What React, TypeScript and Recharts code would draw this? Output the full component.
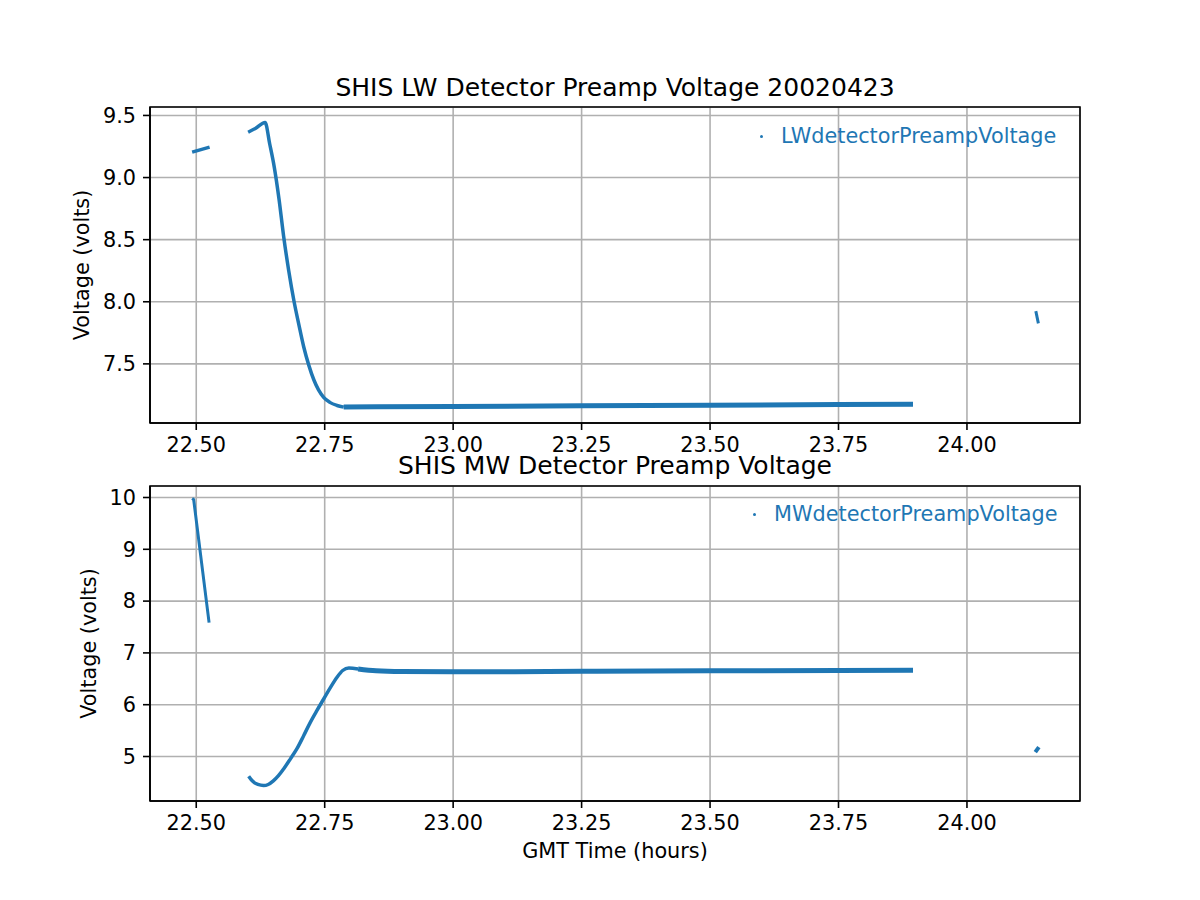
import React from 'react';
import {
  LineChart, Line, XAxis, YAxis, CartesianGrid, ReferenceArea,
} from 'recharts';

// --- data (GMT hours, volts) ---
const timeTicks = [22.5, 22.75, 23.0, 23.25, 23.5, 23.75, 24.0];
const lwTicks = [7.5, 8.0, 8.5, 9.0, 9.5];
const mwTicks = [5, 6, 7, 8, 9, 10];

const lwStart = [
  { t: 22.492, v: 9.205 },
  { t: 22.526, v: 9.245 },
];
const lwDrop = [
  { t: 22.601, v: 9.365 },
  { t: 22.615, v: 9.395 },
  { t: 22.634, v: 9.444 },
  { t: 22.643, v: 9.27 },
  { t: 22.652, v: 9.08 },
  { t: 22.661, v: 8.83 },
  { t: 22.67, v: 8.53 },
  { t: 22.68, v: 8.25 },
  { t: 22.69, v: 8.01 },
  { t: 22.7, v: 7.81 },
  { t: 22.709, v: 7.64 },
  { t: 22.719, v: 7.49 },
  { t: 22.729, v: 7.37 },
  { t: 22.738, v: 7.29 },
  { t: 22.748, v: 7.23 },
  { t: 22.76, v: 7.19 },
  { t: 22.774, v: 7.165 },
  { t: 22.787, v: 7.152 },
];
const lwFlat = [
  { t: 22.787, v: 7.152 },
  { t: 22.85, v: 7.154 },
  { t: 23.0, v: 7.157 },
  { t: 23.25, v: 7.162 },
  { t: 23.5, v: 7.167 },
  { t: 23.75, v: 7.172 },
  { t: 23.895, v: 7.175 },
];
const lwEnd = [
  { t: 24.134, v: 7.925 },
  { t: 24.139, v: 7.826 },
];

const mwStart = [
  { t: 22.492, v: 9.98 },
  { t: 22.495, v: 9.96 },
  { t: 22.525, v: 7.585 },
];
const mwRise = [
  { t: 22.602, v: 4.62 },
  { t: 22.61, v: 4.52 },
  { t: 22.62, v: 4.46 },
  { t: 22.631, v: 4.44 },
  { t: 22.64, v: 4.46 },
  { t: 22.65, v: 4.53 },
  { t: 22.66, v: 4.63 },
  { t: 22.67, v: 4.76 },
  { t: 22.683, v: 4.95 },
  { t: 22.696, v: 5.15 },
  { t: 22.709, v: 5.4 },
  { t: 22.722, v: 5.66 },
  { t: 22.735, v: 5.89 },
  { t: 22.748, v: 6.11 },
  { t: 22.761, v: 6.33 },
  { t: 22.774, v: 6.53 },
  { t: 22.785, v: 6.66 },
  { t: 22.797, v: 6.71 },
  { t: 22.815, v: 6.69 },
];
const mwFlat = [
  { t: 22.815, v: 6.69 },
  { t: 22.85, v: 6.655 },
  { t: 22.9, v: 6.64 },
  { t: 23.0, v: 6.635 },
  { t: 23.25, v: 6.645 },
  { t: 23.5, v: 6.655 },
  { t: 23.75, v: 6.66 },
  { t: 23.895, v: 6.665 },
];
const mwEnd = [
  { t: 24.133, v: 5.085 },
  { t: 24.14, v: 5.18 },
];

const BLUE = '#1f77b4';
const FONT = '"DejaVu Sans", sans-serif';
const FS = 20.8;
const X_DOMAIN = [22.41, 24.22];
const LW_DOMAIN = [7.024, 9.568];
const MW_DOMAIN = [4.141, 10.222];

const tickStyle = { fill: '#000', fontSize: FS, fontFamily: FONT };
const axisLine = { stroke: '#000', strokeWidth: 1.6 };

// matplotlib-style legend: a tiny '.' marker then the label, in the series colour
const DotLegend = ({ label, left, top }: { label: string; left: number; top: number }) => (
  <div style={{ position: 'absolute', left, top, height: 28, display: 'flex', alignItems: 'center', fontFamily: FONT, fontSize: FS, color: BLUE, whiteSpace: 'nowrap' }}>
    <span style={{ width: 3, height: 3, borderRadius: 2, background: BLUE, display: 'inline-block', marginRight: 18 }} />
    <span>{label}</span>
  </div>
);

function Panel({
  height, margin, yDomain, yTicks, yFmt, yLabelOffset, xLabel, xAxisHeight, segments, thick, curve,
}: any) {
  return (
    <LineChart width={1200} height={height} margin={margin}>
      <CartesianGrid stroke="#b0b0b0" strokeWidth={1.6} />
      <XAxis
        type="number"
        dataKey="t"
        domain={X_DOMAIN}
        ticks={timeTicks}
        tickFormatter={(v: number) => v.toFixed(2)}
        tick={tickStyle}
        tickLine={axisLine}
        axisLine={axisLine}
        tickSize={7}
        tickMargin={7}
        height={xAxisHeight}
        allowDataOverflow
        label={xLabel ? { value: xLabel, position: 'insideBottom', offset: 3, style: { fontSize: FS, fontFamily: FONT, fill: '#000' } } : undefined}
      />
      <YAxis
        type="number"
        domain={yDomain}
        ticks={yTicks}
        tickFormatter={yFmt}
        tick={tickStyle}
        tickLine={axisLine}
        axisLine={axisLine}
        tickSize={7}
        tickMargin={7}
        width={150}
        allowDataOverflow
        label={{ value: 'Voltage (volts)', angle: -90, position: 'insideLeft', offset: yLabelOffset, style: { textAnchor: 'middle', fontSize: FS, fontFamily: FONT, fill: '#000' } }}
      />
      {segments.map((seg: any[], i: number) => (
        <Line
          key={i}
          data={seg}
          dataKey="v"
          type={curve[i]}
          stroke={BLUE}
          strokeWidth={thick[i]}
          dot={false}
          isAnimationActive={false}
        />
      ))}
      <ReferenceArea x1={X_DOMAIN[0]} x2={X_DOMAIN[1]} y1={yDomain[0]} y2={yDomain[1]} fill="none" stroke="#000" strokeWidth={1.6} ifOverflow="visible" />
    </LineChart>
  );
}

export default function App() {
  return (
    <div style={{ position: 'absolute', left: 0, top: 0, width: 1200, height: 900, background: '#fff', fontFamily: FONT }}>
      <div style={{ position: 'absolute', left: 0, top: 0 }}>
        <Panel
          height={470}
          margin={{ top: 107, right: 120, bottom: 7, left: 0 }}
          yDomain={LW_DOMAIN}
          yTicks={lwTicks}
          yFmt={(v: number) => v.toFixed(1)}
          yLabelOffset={82}
          xAxisHeight={40}
          segments={[lwStart, lwDrop, lwFlat, lwEnd]}
          thick={[3.5, 3.5, 5, 3]}
          curve={['linear', 'monotone', 'monotone', 'linear']}
        />
      </div>
      <div style={{ position: 'absolute', left: 0, top: 440 }}>
        <Panel
          height={460}
          margin={{ top: 46, right: 120, bottom: 39, left: 0 }}
          yDomain={MW_DOMAIN}
          yTicks={mwTicks}
          yFmt={(v: number) => String(v)}
          yLabelOffset={89}
          xLabel="GMT Time (hours)"
          xAxisHeight={60}
          segments={[mwStart, mwRise, mwFlat, mwEnd]}
          thick={[3, 3.5, 5, 4]}
          curve={['linear', 'monotone', 'monotone', 'linear']}
        />
      </div>
      <div style={{ position: 'absolute', left: 150, top: 78, width: 930, textAlign: 'center', fontSize: 25, lineHeight: '20px' }}>
        SHIS LW Detector Preamp Voltage 20020423
      </div>
      <div style={{ position: 'absolute', left: 150, top: 456, width: 930, textAlign: 'center', fontSize: 25, lineHeight: '20px' }}>
        SHIS MW Detector Preamp Voltage
      </div>
      <DotLegend label="LWdetectorPreampVoltage" left={760} top={122} />
      <DotLegend label="MWdetectorPreampVoltage" left={753} top={500} />
    </div>
  );
}
